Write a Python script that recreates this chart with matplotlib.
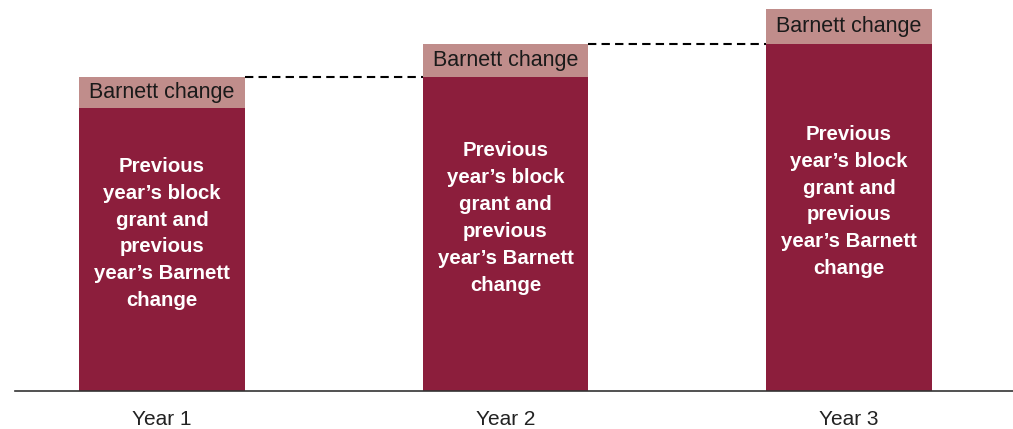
import matplotlib.pyplot as plt

plt.rcParams['font.family'] = ['Liberation Sans', 'DejaVu Sans']

years = ["Year 1", "Year 2", "Year 3"]
block_grant = [283, 314, 347]
barnett_change = [31, 33, 35]
base_label = "Previous\nyear\u2019s block\ngrant and\nprevious\nyear\u2019s Barnett\nchange"
top_label = "Barnett change"

dark_red = "#8C1E3C"
light_red = "#C08D8B"

fig = plt.figure(figsize=(10.13, 4.29), dpi=100)
ax = fig.add_axes([0, 38 / 429, 1, 391 / 429])

x = list(range(len(years)))
width = 0.483
ax.bar(x, block_grant, width=width, color=dark_red)
ax.bar(x, barnett_change, width=width, bottom=block_grant, color=light_red)

for i in x:
    top = block_grant[i] + barnett_change[i]
    ax.text(i, block_grant[i] + barnett_change[i] / 2, top_label,
            ha="center", va="center", fontsize=15.5, color="#1a1a1a")
    ax.text(i, block_grant[i] / 2 + 16, base_label, ha="center", va="center",
            fontsize=14.7, fontweight="bold", color="white", linespacing=1.53)
    # dashed link from this bar's total to the next bar
    if i < len(years) - 1:
        ax.plot([i + width / 2, i + 1 - width / 2], [top, top],
                color="black", linestyle=(0, (4, 2.5)), linewidth=1.5)

ax.set_xlim(-162 / 343.5, (1013 - 162) / 343.5)
ax.set_ylim(0, 391)
ax.axhline(0, xmin=15 / 1013, xmax=1, color="#333333", linewidth=1.2, clip_on=False)

for s in ax.spines.values():
    s.set_visible(False)
ax.set_yticks([])
ax.set_xticks(x)
ax.set_xticklabels(years, fontsize=15, color="#222222")
ax.tick_params(axis="x", length=0, pad=14)

fig.savefig("out.png", dpi=100)
